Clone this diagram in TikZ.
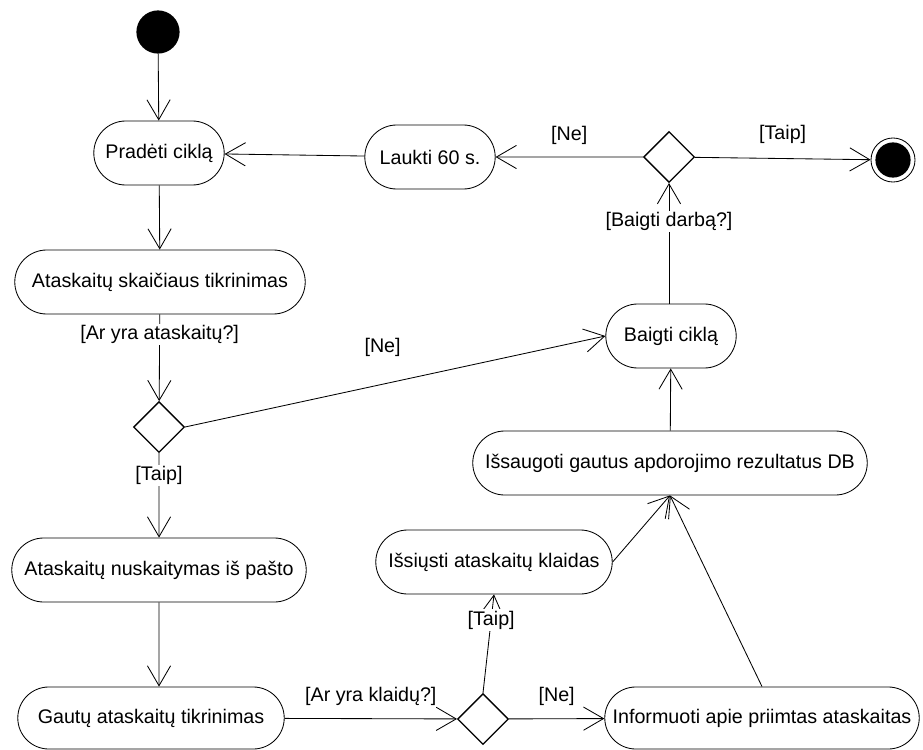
\documentclass[tikz,border=0pt]{standalone}
\usepackage{fontspec}
\setmainfont{Liberation Sans}
\usetikzlibrary{shapes.misc,shapes.geometric,arrows.meta}

\tikzset{
  act/.style={rounded rectangle, draw, line width=0.6pt, inner sep=2pt,
              minimum height=1.6cm},
  choice/.style={diamond, draw, line width=0.9pt, inner sep=0pt,
                 minimum width=1.27cm, minimum height=1.27cm},
  flow/.style={-{Straight Barb[length=0.5cm,width=0.58cm]}, line width=0.6pt},
  guard/.style={fill=white, inner sep=1pt}
}

\begin{document}
\begin{tikzpicture}[x=0.025cm, y=-0.025cm, font=\fontsize{14}{17}\selectfont]

  % === page frame (pixel coordinates, y grows downwards) ===
  \useasboundingbox (0,0) rectangle (923,750);

  % --- start / end states
  \node[circle, fill=black, minimum size=1.08cm, inner sep=0pt] (start) at (158,32) {};
  \node[circle, draw, line width=0.6pt, minimum size=1.1cm, inner sep=0pt] (stop) at (893,160) {};
  \fill (stop.center) circle (0.44cm);

  % --- activities
  \node[act, minimum width=3.4cm]  (pradeti)    at (159,153) {Pradėti ciklą};
  \node[act, minimum width=3.4cm]  (laukti)     at (430,157) {Laukti 60 s.};
  \node[act, minimum width=7.4cm]  (tikr)       at (160,282) {Ataskaitų skaičiaus tikrinimas};
  \node[act, minimum width=3.4cm]  (baigti)     at (671,336) {Baigti ciklą};
  \node[act, minimum width=10cm]   (issaugoti)  at (670,463) {Išsaugoti gautus apdorojimo rezultatus DB};
  \node[act, minimum width=6.05cm] (issiusti)   at (494,562) {Išsiųsti ataskaitų klaidas};
  \node[act, minimum width=7.5cm]  (nusk)       at (159,570) {Ataskaitų nuskaitymas iš pašto};
  \node[act, minimum width=6.8cm, minimum height=1.55cm]  (gautu)      at (151,718) {Gautų ataskaitų tikrinimas};
  \node[act, minimum width=8cm, minimum height=1.55cm]    (informuoti) at (762,718) {Informuoti apie priimtas ataskaitas};

  % --- decisions
  \node[choice] (dbaigti) at (669,157) {};
  \node[choice] (dyra)    at (159,427) {};
  \node[choice] (dklaid)  at (483,719) {};

  % === transitions ===
  \draw[flow] (start) -- (pradeti);
  \draw[flow] (pradeti) -- (tikr);
  \draw[flow] (laukti) -- (pradeti);
  \draw[flow] (dbaigti) -- node[above=5pt] {[Ne]} (laukti);
  \draw[flow] (dbaigti) -- node[above=7pt] {[Taip]} (stop);
  \draw[flow] (baigti.north -| dbaigti) -- node[guard, pos=0.68] {[Baigti darbą?]} (dbaigti);

  \draw[flow] (tikr) -- node[guard, pos=0.23] {[Ar yra ataskaitų?]} (dyra);
  \draw[flow] (dyra.east) -- node[above=16pt, pos=0.47] {[Ne]} (baigti.west);
  \draw[flow] (dyra) -- node[guard, pos=0.27] {[Taip]} (nusk);
  \draw[flow] (nusk) -- (nusk |- gautu.north);

  \draw[flow] (gautu) -- node[above=6pt] {[Ar yra klaidų?]} (dklaid);
  \draw[flow] (dklaid) -- node[above=6pt] {[Ne]} (informuoti);
  \draw[flow] (dklaid.north) -- node[guard, pos=0.74] {[Taip]} (issiusti.south);

  \draw[flow] (issiusti.east) -- (issaugoti.south);
  \draw[flow] (informuoti.north) -- (issaugoti.south);
  \draw[flow] (issaugoti) -- (baigti);

\end{tikzpicture}
\end{document}
